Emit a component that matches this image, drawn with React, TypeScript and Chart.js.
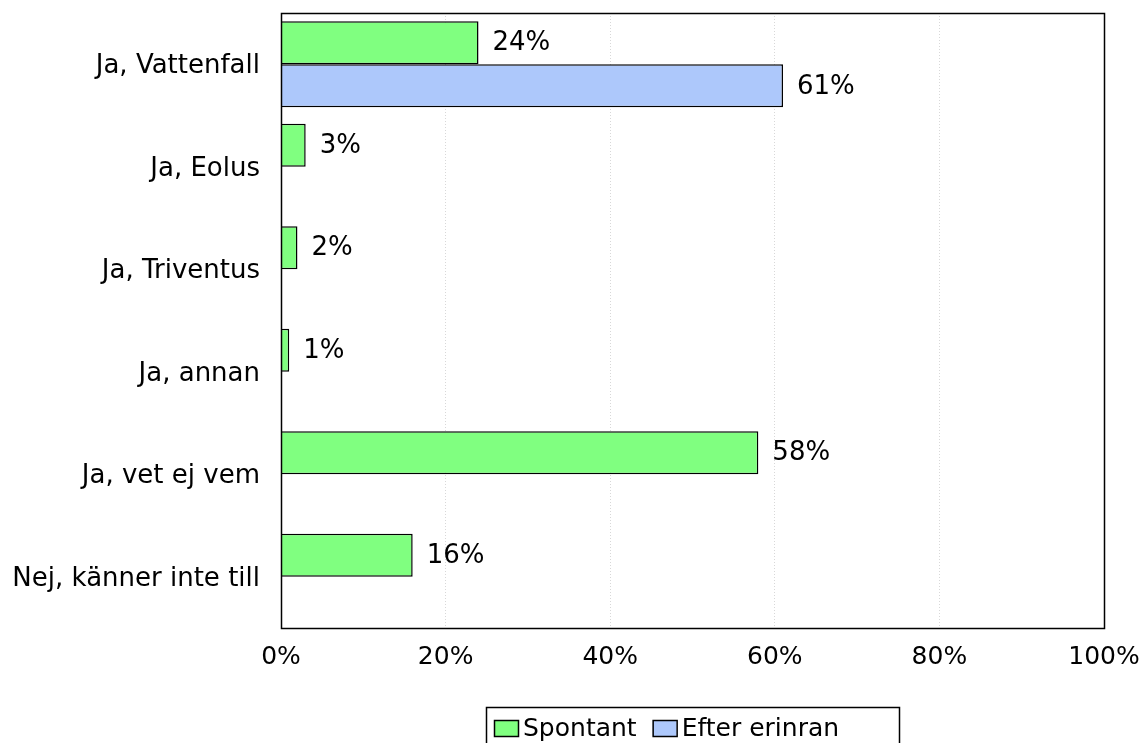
import { useEffect, useRef } from "react";
import { Chart, registerables } from "chart.js";

Chart.register(...registerables);

const categories = [
  "Ja, Vattenfall",
  "Ja, Eolus",
  "Ja, Triventus",
  "Ja, annan",
  "Ja, vet ej vem",
  "Nej, känner inte till",
];
const seriesNames = ["Spontant", "Efter erinran"];
const spontant = [24, 3, 2, 1, 58, 16];
const efterErinran = [61, null, null, null, null, null];
const xTickValues = [0, 20, 40, 60, 80, 100];

const FONT = "DejaVu Sans";
const FS = 25;
const FS_Y = 26;

const zeroPad = (scale: any) => {
  scale.paddingTop = 0;
  scale.paddingBottom = 0;
  scale.paddingLeft = 0;
  scale.paddingRight = 0;
};

const framePlugin = {
  id: "frameAndLabels",
  afterDatasetsDraw(chart: any) {
    const ctx = chart.ctx;
    ctx.save();
    ctx.font = `${FS_Y}px "${FONT}"`;
    ctx.fillStyle = "#000";
    ctx.textAlign = "left";
    ctx.textBaseline = "middle";
    chart.data.datasets.forEach((ds: any, di: number) => {
      const meta = chart.getDatasetMeta(di);
      meta.data.forEach((bar: any, i: number) => {
        const v = ds.data[i];
        if (v === null || v === undefined) return;
        ctx.fillText(`${v}%`, bar.x + 14, bar.y + 1);
      });
    });
    ctx.restore();
  },
  afterDraw(chart: any) {
    const ctx = chart.ctx;
    const a = chart.chartArea;
    ctx.save();
    ctx.strokeStyle = "#000";
    ctx.lineWidth = 1.5;
    ctx.strokeRect(Math.round(a.left) + 0.5, Math.round(a.top) + 0.5, Math.round(a.right - a.left), Math.round(a.bottom - a.top));

    // legend
    const boxLeft = 486;
    const boxTop = 707;
    const boxRight = 899;
    ctx.lineWidth = 1.5;
    ctx.strokeRect(boxLeft + 0.5, boxTop + 0.5, boxRight - boxLeft, 60);
    ctx.font = `${FS}px "${FONT}"`;
    ctx.textAlign = "left";
    ctx.textBaseline = "middle";
    let x = boxLeft + 8;
    const cy = 728;
    chart.data.datasets.forEach((ds: any) => {
      ctx.fillStyle = ds.backgroundColor;
      ctx.fillRect(x, cy - 8, 24, 16);
      ctx.lineWidth = 1.5;
      ctx.strokeStyle = "#000";
      ctx.strokeRect(x + 0.5, cy - 8 + 0.5, 24, 16);
      x += 29;
      ctx.fillStyle = "#000";
      ctx.fillText(ds.label, x, cy + 1);
      x += ctx.measureText(ds.label).width + 16;
    });
    ctx.restore();
  },
};

export default function App() {
  const ref = useRef<HTMLCanvasElement | null>(null);

  useEffect(() => {
    if (!ref.current) return;
    const chart = new Chart(ref.current, {
      type: "bar",
      data: {
        labels: categories,
        datasets: [
          {
            label: seriesNames[0],
            data: spontant,
            backgroundColor: "#80FF80",
            borderColor: "#000",
            borderWidth: 1.5,
            barPercentage: 1,
            categoryPercentage: 0.84,
          },
          {
            label: seriesNames[1],
            data: efterErinran,
            backgroundColor: "#ADC8FB",
            borderColor: "#000",
            borderWidth: 1.5,
            barPercentage: 1,
            categoryPercentage: 0.84,
          },
        ],
      },
      options: {
        indexAxis: "y",
        responsive: false,
        animation: false,
        devicePixelRatio: 1,
        layout: { padding: { top: 13, right: 39, left: 0, bottom: 0 } },
        plugins: {
          legend: { display: false },
          tooltip: { enabled: false },
        },
        scales: {
          x: {
            min: 0,
            max: 100,
            afterBuildTicks: (scale: any) => {
              scale.ticks = xTickValues.map((v) => ({ value: v }));
            },
            afterFit: (scale: any) => {
              scale.height = 115;
              zeroPad(scale);
            },
            ticks: {
              callback: (v: any) => `${v}%`,
              color: "#000",
              font: { family: FONT, size: FS },
              padding: 14,
              maxRotation: 0,
            },
            grid: { color: "#d8d8d8", drawTicks: false, lineWidth: 1 },
            border: { display: false, dash: [1, 2] },
          },
          y: {
            afterFit: (scale: any) => {
              scale.width = 281;
              zeroPad(scale);
            },
            ticks: {
              color: "#000",
              font: { family: FONT, size: FS_Y },
              padding: 21,
              labelOffset: 2,
            },
            grid: { display: false, drawTicks: false },
            border: { display: false },
          },
        },
      },
      plugins: [framePlugin],
    });
    return () => chart.destroy();
  }, []);

  return (
    <div style={{ position: "fixed", left: 0, top: 0, width: 1143, height: 743, background: "#fff" }}>
      <canvas ref={ref} width={1143} height={743} style={{ display: "block" }} />
    </div>
  );
}
